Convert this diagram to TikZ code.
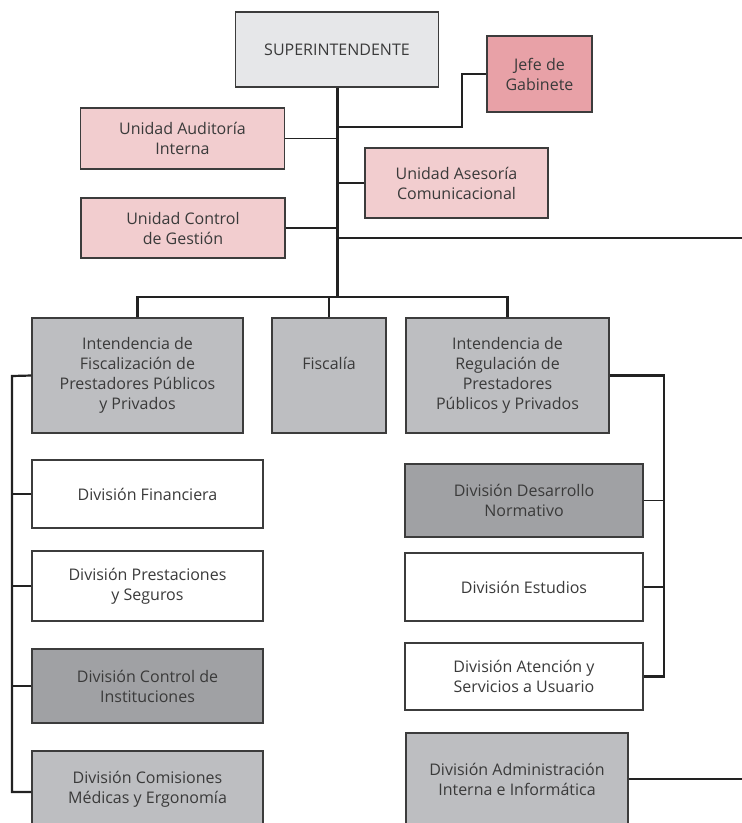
\documentclass[tikz,border=0pt]{standalone}
\usepackage{fontspec}
\setmainfont{Open Sans}
\definecolor{txt}{HTML}{3A3A3A}
\definecolor{edge}{HTML}{3C3C3C}
\definecolor{wire}{HTML}{222222}
\definecolor{supfill}{HTML}{E6E7E9}
\definecolor{jefefill}{HTML}{E8A1A7}
\definecolor{unifill}{HTML}{F2CDCF}
\definecolor{intfill}{HTML}{BDBEC1}
\definecolor{darkfill}{HTML}{A0A1A4}
\begin{document}
\begin{tikzpicture}[x=1pt,y=-1pt,
  box/.style={draw=edge, line width=1.2pt, text=txt, align=center, inner sep=2pt,
    font=\fontsize{16}{20}\selectfont},
  label text/.style={text=txt, align=center, inner sep=0pt, font=\fontsize{16}{20}\selectfont},
  trunk/.style={draw=wire, line width=3pt},
  spine/.style={draw=wire, line width=2.2pt},
  branch/.style={draw=wire, line width=1.8pt},
]
\useasboundingbox (0,0) rectangle (742,823);
\clip (0,0) rectangle (742,823);

% top level
\node[box, fill=supfill, minimum width=203pt, minimum height=75pt,
      font=\fontsize{16}{20}\selectfont] (sup) at (337,49.5) {SUPERINTENDENTE};
\node[box, fill=jefefill, minimum width=105pt, minimum height=76pt] (jefe) at (539.5,74) {Jefe de\\Gabinete};

% staff units
\node[box, fill=unifill, minimum width=204pt, minimum height=61pt] (aud) at (182.5,138.5) {Unidad Auditoría\\Interna};
\node[box, fill=unifill, minimum width=204pt, minimum height=60pt] (ctrl) at (183,228) {Unidad Control\\de Gestión};
\node[box, fill=unifill, minimum width=183pt, minimum height=70pt] (ase) at (456.5,183) {Unidad Asesoría\\Comunicacional};

% second level
\node[box, fill=intfill, minimum width=211pt, minimum height=115pt] (ifis) at (137.5,375.5)
  {Intendencia de\\Fiscalización de\\Prestadores Públicos\\y Privados};
\node[box, fill=intfill, minimum width=114pt, minimum height=115pt] (fisc) at (329,375.5) {};
\node[label text] (fisct) at (329,363) {Fiscalía};
\node[box, fill=intfill, minimum width=203pt, minimum height=115pt] (ireg) at (507.5,375.5)
  {Intendencia de\\Regulación de\\Prestadores\\Públicos y Privados};

% divisions under Fiscalización
\node[box, fill=white, minimum width=231pt, minimum height=68pt] (dfin) at (147.5,494) {División Financiera};
\node[box, fill=white, minimum width=231pt, minimum height=70pt] (dpre) at (147.5,586) {División Prestaciones\\y Seguros};
\node[box, fill=darkfill, minimum width=231pt, minimum height=74pt] (dcon) at (147.5,686) {División Control de\\Instituciones};
\node[box, fill=intfill, minimum width=231pt, minimum height=76pt] (dcom) at (147.5,789) {División Comisiones\\Médicas y Ergonomía};

% divisions under Regulación
\node[box, fill=darkfill, minimum width=238pt, minimum height=73pt] (ddes) at (524,500.5) {División Desarrollo\\Normativo};
\node[box, fill=white, minimum width=238pt, minimum height=68pt] (dest) at (524,587) {División Estudios};
\node[box, fill=white, minimum width=238pt, minimum height=67pt] (date) at (524,676.5) {División Atención y\\Servicios a Usuario};
\node[box, fill=intfill, minimum width=222pt, minimum height=92pt] (dadm) at (517,779) {División Administración\\Interna e Informática};

% connector anchors
\coordinate (barj) at (337,297);
\coordinate (jb) at (337,127);
\coordinate (jk) at (462,127);
\coordinate (lt) at (337,238);
\coordinate (rt) at (742,238);
\coordinate (ls) at (12,376);
\coordinate (lsb) at (12,792);
\coordinate (rs) at (664,375);
\coordinate (rt2) at (742,779);

% main trunk and staff links
\draw[trunk] (sup.south) -- (barj);
\draw[branch] (jb) -- (jk) |- (jefe.west);
\draw[branch] (aud.east) -- (aud.east -| barj);
\draw[branch] (ctrl.east) -- (ctrl.east -| barj);
\draw[branch] (ase.west) -- (ase.west -| barj);
\draw[branch] (lt) -- (rt);

% bar to the second level
\draw[spine] (ifis.north) -- (ifis.north |- barj) -- (ireg.north |- barj) -- (ireg.north);
\draw[branch] (fisc.north) -- (fisc.north |- barj);

% left spine
\draw[spine] (ifis.west) -- (ls) -- (lsb) -- (lsb -| dcom.west);
\draw[branch] (dfin.west) -- (dfin.west -| ls);
\draw[branch] (dpre.west) -- (dpre.west -| ls);
\draw[branch] (dcon.west) -- (dcon.west -| ls);

% right spine
\draw[spine] (ireg.east) -- (ireg.east -| rs) |- (date.east);
\draw[branch] (ddes.east) -- (ddes.east -| rs);
\draw[branch] (dest.east) -- (dest.east -| rs);

% administration link
\draw[branch] (dadm.east) -- (rt2);
\end{tikzpicture}
\end{document}
